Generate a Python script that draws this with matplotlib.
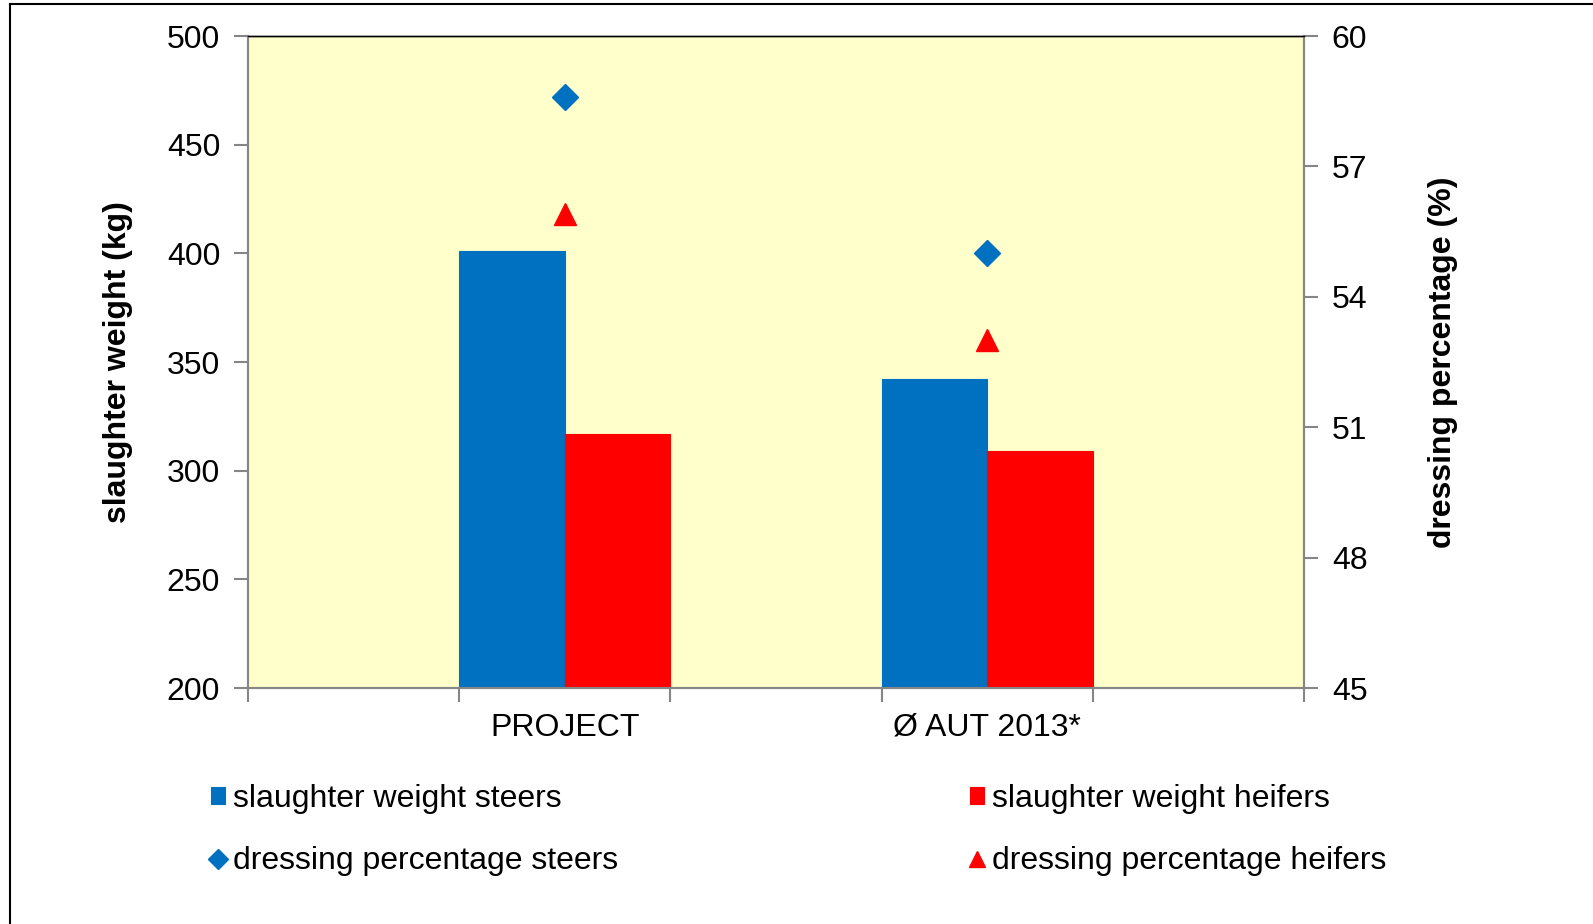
import numpy as np
import matplotlib
matplotlib.use("Agg")
import matplotlib.pyplot as plt
from matplotlib.lines import Line2D

plt.rcParams['font.family'] = ['Liberation Sans', 'DejaVu Sans']

# data
categories = ["", "PROJECT", "", "Ø AUT 2013*", ""]
weight_steers = [200, 401, np.nan, 342, 200]
weight_heifers = [200, 317, np.nan, 309, 200]
dressing_steers = [np.nan, 58.6, np.nan, 55.0, np.nan]
dressing_heifers = [np.nan, 55.9, np.nan, 53.0, np.nan]

blue = "#0070C0"
red = "#FF0000"
grey = "#868686"
fs = 23

fig = plt.figure(figsize=(15.93, 9.24), dpi=100)
ax = fig.add_axes([248/1593, 1-688/924, (1304-248)/1593, (688-36)/924])
ax.set_facecolor("#FFFFCC")

x = np.arange(len(categories))
w = 0.5
base = 200
hs = np.array(weight_steers) - base
hh = np.array(weight_heifers) - base
ax.bar(x - w/2, hs, w, bottom=base, color=blue, edgecolor=blue, linewidth=0.8,
       label="slaughter weight steers", zorder=2)
ax.bar(x + w/2, hh, w, bottom=base, color=red, edgecolor=red, linewidth=0.8,
       label="slaughter weight heifers", zorder=2)

ax.set_xlim(-0.5, len(categories) - 0.5)
ax.set_ylim(200, 500)
ax.set_yticks([200, 250, 300, 350, 400, 450, 500])
ax.set_xticks(np.arange(len(categories) + 1) - 0.5)
ax.set_xticklabels([])
ax.set_xticks(x, minor=True)
ax.set_xticklabels(categories, minor=True)
ax.tick_params(axis='x', which='minor', length=0, pad=18, labelsize=fs)
ax.tick_params(axis='x', which='major', length=10, width=1.5, color=grey, direction='out')
ax.tick_params(axis='y', length=10, width=1.5, color=grey, labelsize=fs, pad=10)
ax.set_ylabel("slaughter weight (kg)", fontsize=fs, fontweight='bold')
ax.yaxis.set_label_coords((133 - 248) / 1056, 0.5)

ax2 = ax.twinx()
ax2.plot(x, dressing_steers, linestyle='none', marker='D', ms=13, color=blue,
         label="dressing percentage steers", zorder=3)
ax2.plot(x, dressing_heifers, linestyle='none', marker='^', ms=16, color=red,
         label="dressing percentage heifers", zorder=3)
ax2.set_ylim(45, 60)
ax2.set_yticks([45, 48, 51, 54, 57, 60])
ax2.tick_params(axis='y', length=10, width=1.5, color=grey, labelsize=fs, pad=10)
ax2.set_ylabel("dressing percentage (%)", fontsize=fs, fontweight='bold')
ax2.yaxis.set_label_coords((1428 - 248) / 1056, 0.5)

for a in (ax, ax2):
    for s in ('left', 'right', 'bottom'):
        a.spines[s].set_color(grey)
        a.spines[s].set_linewidth(1.5)
    a.spines['top'].set_color('black')
    a.spines['top'].set_linewidth(1)

h1, l1 = ax.get_legend_handles_labels()
h2, l2 = ax2.get_legend_handles_labels()
handles = [h1[0], h2[0], h1[1], h2[1]]
labels = [l1[0], l2[0], l1[1], l2[1]]
fig.legend(handles, labels, ncol=2, loc='upper left', bbox_to_anchor=(211/1593, 1-784/924),
           frameon=False, fontsize=fs, handlelength=0.45, handleheight=0.45,
           handletextpad=0.25, columnspacing=11.0, labelspacing=1.0,
           borderaxespad=0, borderpad=0, markerscale=0.75)

# outer frame of the chart
fig.add_artist(Line2D([10/1593, 10/1593], [0, 1-4/924], color='black', lw=1.5))
fig.add_artist(Line2D([10/1593, 1], [1-4/924, 1-4/924], color='black', lw=1.5))

fig.savefig("out.png", dpi=100)
